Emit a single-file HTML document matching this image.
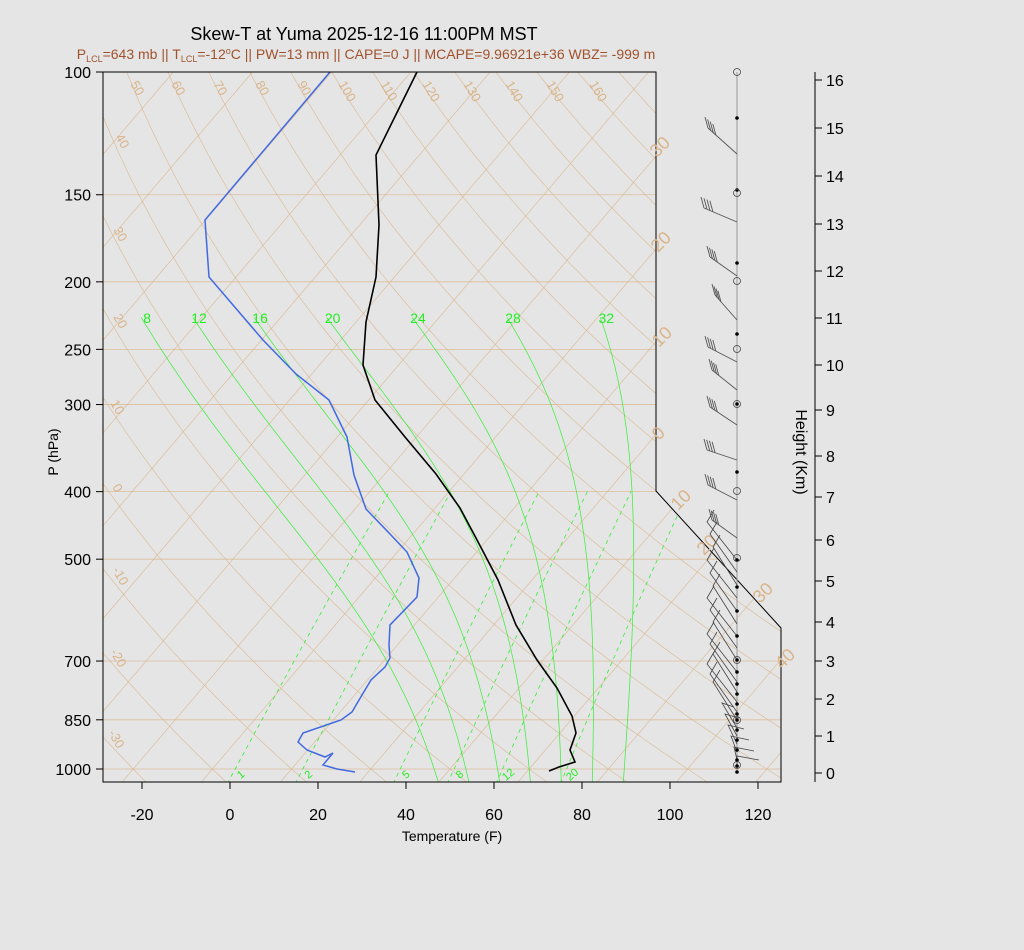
<!DOCTYPE html>
<html><head><meta charset="utf-8">
<style>
html,body{margin:0;padding:0;background:#e5e5e5;}
svg{display:block;font-family:"Liberation Sans",sans-serif;}
</style></head>
<body>
<svg id="s" width="1024" height="950" xmlns="http://www.w3.org/2000/svg">
<defs><clipPath id="cp"><polygon points="103,72 656,72 656,491 781,628 781,782 103,782"/></clipPath></defs>
<rect width="1024" height="950" fill="#e5e5e5"/>
<g id="grid" clip-path="url(#cp)"></g>
<g id="fg"></g>
</svg>
<script>
const NS="http://www.w3.org/2000/svg";
const grid=document.getElementById('grid'), fg=document.getElementById('fg');
function el(par,tag,at,txt){const e=document.createElementNS(NS,tag);for(const k in at)e.setAttribute(k,at[k]);if(txt!==undefined)e.textContent=txt;par.appendChild(e);return e;}
const Y=p=>72+697*Math.log10(p/100);
const X=(tc,p)=>{const y=Y(p);return 230+4.4*(tc*1.8+32)+0.853*(769-y);};
function poly(par,pts,at){el(par,'polyline',Object.assign({points:pts.map(q=>q[0].toFixed(1)+','+q[1].toFixed(1)).join(' '),fill:'none'},at));}
const tan='#d9b48a';
[100,150,200,250,300,400,500,700,850,1000].forEach(p=>el(grid,'line',{x1:103,x2:781,y1:Y(p),y2:Y(p),stroke:tan,'stroke-width':0.8,'stroke-opacity':0.8}));
for(let t=-120;t<=60;t+=10){el(grid,'line',{x1:X(t,1050),y1:Y(1050),x2:X(t,100),y2:Y(100),stroke:tan,'stroke-width':0.7,'stroke-opacity':0.8});}
for(let th=-40;th<=180;th+=10){const pts=[];for(let p=1050;p>=100;p-=10){const T=(th+273.15)*Math.pow(p/1000,0.286)-273.15;pts.push([X(T,p),Y(p)]);}poly(grid,pts,{stroke:tan,'stroke-width':0.7,'stroke-opacity':0.8});}
const es=tc=>6.112*Math.exp(17.67*tc/(tc+243.5));
function dTdp(T,p){const tc=T-273.15;const e=es(tc);const rs=0.622*e/(p-e);const Rd=287,cp=1004,Lv=2.5e6;return (Rd*T+Lv*rs)/(cp+Lv*Lv*rs*0.622/(Rd*T*T))/p;}
[8,12,16,20,24,28,32].forEach(t0=>{const pts=[];let T=t0+273.15;
 let Tb=T;for(let q=1000;q<1050;q+=1){Tb+=dTdp(Tb,q);}pts.push([X(Tb-273.15,1050),Y(1050)]);
 for(let q=1049;q>1000;q--){Tb-=dTdp(Tb,q);pts.push([X(Tb-273.15,q),Y(q)]);}
 for(let p=1000;p>=225;p-=1){pts.push([X(T-273.15,p),Y(p)]);T-=dTdp(T,p);}
 poly(grid,pts,{stroke:'#33ee33','stroke-width':0.7});
 el(fg,'text',{x:pts[pts.length-1][0]+6,y:323,'font-size':14,fill:'#22ee22','text-anchor':'middle'},t0);
});
[1,2,5,8,12,20].forEach(w=>{const pts=[];for(let p=1050;p>=400;p-=5){const e=w*p/(622+w);const l=Math.log(e/6.112);const td=243.5*l/(17.67-l);pts.push([X(td,p),Y(p)]);}
 poly(grid,pts,{stroke:'#33ee33','stroke-width':0.8,'stroke-dasharray':'4,4'});
 const e=w*1000/(622+w);const l=Math.log(e/6.112);const td=243.5*l/(17.67-l);
 el(fg,'text',{x:X(td,1000)+6,y:778,'font-size':11,fill:'#22ee22','text-anchor':'middle',transform:`rotate(-40 ${X(td,1000)+6} 775)`},w);
});
const T=[[417,72],[376,155],[379,225],[376,277],[366,322],[363,365],[375,400],[405,437],[436,474],[460,508],[476,538],[498,580],[516,625],[537,660],[557,688],[572,716],[576,733],[570,750],[575,762],[559,767],[549,771]];
const D=[[330,72],[205,220],[209,277],[263,340],[296,374],[329,400],[347,437],[354,475],[366,509],[390,534],[407,552],[419,578],[417,597],[390,625],[389,645],[390,658],[385,667],[371,680],[362,695],[352,712],[341,720],[303,733],[298,742],[307,750],[325,757],[333,753],[323,765],[337,769],[355,772]];
poly(fg,D,{stroke:'#4169e1','stroke-width':1.5});
poly(fg,T,{stroke:'#000','stroke-width':1.6});
el(fg,'polygon',{points:"103,72 656,72 656,491 781,628 781,782 103,782",fill:'none',stroke:'#000','stroke-width':1});
[[40,115,137],[30,113,230],[20,113,317],[10,110,403],[0,112,487],[-10,112,570],[-20,110,652],[-30,108,733]].forEach(a=>el(fg,'text',{x:a[1],y:a[2],'font-size':13,fill:tan,transform:`rotate(60 ${a[1]} ${a[2]})`},a[0]));
[50,60,70,80,90,100,110,120,130,140,150,160].forEach((t,i)=>{const x=[130,171,213,255,297,338,380,422,463,505,546,589][i];el(fg,'text',{x:x,y:84,'font-size':13,fill:tan,transform:`rotate(60 ${x} 84)`},t);});
[['30',657,158],['20',658,253],['10',659,348],['0',659,441],['10',678,511],['20',704,556],['30',760,604],['40',782,670]].forEach(a=>el(fg,'text',{x:a[1],y:a[2],'font-size':18,fill:tan,transform:`rotate(-45 ${a[1]} ${a[2]})`},a[0]));
[100,150,200,250,300,400,500,700,850,1000].forEach(p=>{const y=Y(p);el(fg,'line',{x1:96,x2:103,y1:y,y2:y,stroke:'#000'});el(fg,'text',{x:91,y:y+6,'font-size':16,'text-anchor':'end'},p);});
el(fg,'text',{x:58,y:452,'font-size':14,'text-anchor':'middle',transform:'rotate(-90 58 452)'},'P (hPa)');
for(let f=-20;f<=120;f+=20){const x=230+4.4*f;el(fg,'line',{x1:x,x2:x,y1:782,y2:789,stroke:'#000'});el(fg,'text',{x:x,y:820,'font-size':16,'text-anchor':'middle'},f);}
el(fg,'line',{x1:142,x2:758,y1:782,y2:782,stroke:'#000'});
el(fg,'text',{x:452,y:841,'font-size':14,'text-anchor':'middle'},'Temperature (F)');
el(fg,'text',{x:364,y:40,'font-size':18,'text-anchor':'middle'},'Skew-T at Yuma 2025-12-16 11:00PM MST');
const st=el(fg,'text',{x:366,y:59,'font-size':14,'text-anchor':'middle',fill:'#a0522d'});
st.innerHTML='P<tspan font-size="9" dy="3">LCL</tspan><tspan dy="-3">=643 mb || T</tspan><tspan font-size="9" dy="3">LCL</tspan><tspan dy="-3">=-12</tspan><tspan font-size="9" dy="-5">o</tspan><tspan dy="5">C || PW=13 mm || CAPE=0 J || MCAPE=9.96921e+36 WBZ= -999 m</tspan>';
const H=[773,736,699,661,622,581,540,497,456,410,365,318,271,224,176,128,80];
el(fg,'line',{x1:815,x2:815,y1:72,y2:782,stroke:'#000'});
H.forEach((y,i)=>{el(fg,'line',{x1:815,x2:822,y1:y,y2:y,stroke:'#000'});el(fg,'text',{x:826,y:y+6,'font-size':16},i);});
el(fg,'text',{x:796,y:452,'font-size':16,'text-anchor':'middle',transform:'rotate(90 796 452)'},'Height (Km)');
el(fg,'line',{x1:737,x2:737,y1:72,y2:772,stroke:'#999','stroke-width':1});
[[154,708,128],[222,704,208],[276,710,257],[320,715,295],[362,708,347],[390,712,370],[425,710,407],[460,707,450],[500,708,485],[538,712,520]].forEach(b=>{
 el(fg,'line',{x1:737,y1:b[0],x2:b[1],y2:b[2],stroke:'#555','stroke-width':0.9});
 for(let k=0;k<4;k++){const t=k*0.09;const x=b[1]+(737-b[1])*t,y=b[2]+(b[0]-b[2])*t;el(fg,'line',{x1:x,y1:y,x2:x-3,y2:y-11,stroke:'#555','stroke-width':0.9});}
});
const lb=[560,572,585,598,611,624,636,648,660,672,682,692,702,712,720,728,736,744,752,760,766];
lb.forEach((y,i)=>{let x2,y2,fx,fy;
 if(i<15){x2=737-30+(i%3)*3;y2=y-38;fx=x2+7;fy=y2-12;}
 else{x2=737-15+(i-15)*3;y2=y-25+(i-15)*3;fx=x2+12+(i-15)*2;fy=y2+4;}
 el(fg,'polyline',{points:`737,${y} ${x2},${y2} ${fx},${fy}`,fill:'none',stroke:'#444','stroke-width':0.8});});
[118,190,263,334,404,472,560,587,611,636,660,672,684,694,704,714,720,730,740,750,760,766,772].forEach(y=>el(fg,'circle',{cx:737,cy:y,r:1.8,fill:'#000'}));
[72,193,281,349,404,491,558,660,720,765].forEach(y=>el(fg,'circle',{cx:737,cy:y,r:3.5,fill:'none',stroke:'#444','stroke-width':0.8}));
</script>
</body></html>
